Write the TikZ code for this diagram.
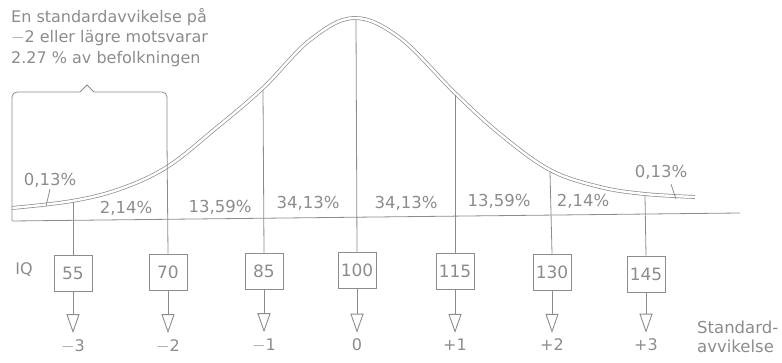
\documentclass[tikz,border=0pt]{standalone}
\usepackage{fontspec}
\setmainfont{DejaVu Sans}
\usetikzlibrary{arrows.meta}
\definecolor{ink}{HTML}{8C8C8C}
\tikzset{
  thin line/.style={draw=ink, line width=0.8pt},
  curveline/.style={draw=ink, line width=0.7pt, double=white, double distance=2.4pt},
  iqbox/.style={draw=ink, line width=0.9pt, minimum width=38pt, minimum height=36pt, inner sep=0pt, text=ink, font=\fontsize{17}{17}\selectfont},
  pct/.style={text=ink, font=\fontsize{16.5}{16.5}\selectfont, inner sep=0pt},
  sdlab/.style={text=ink, font=\fontsize{16}{16}\selectfont, inner sep=0pt},
  downarrow/.style={draw=ink, line width=0.9pt, -{Triangle[open, length=19pt, width=13pt, line width=0.9pt]}},
}
\begin{document}
\begin{tikzpicture}[x=1pt, y=-1pt]
\useasboundingbox (0,0) rectangle (782,363);

% top text
\node[text=ink, anchor=north west, align=left, inner sep=0pt,
      font=\fontsize{16}{20.5}\selectfont] (note) at (11,8)
  {En standardavvikelse på\\ $-$2 eller lägre motsvarar\\ 2.27 \% av befolkningen};

% baseline
\coordinate (bl) at (12,221);
\coordinate (br) at (740,213);
\draw[thin line] (bl) -- (br);

% bell curve (double line)
\draw[curveline] plot[smooth, tension=0.6] coordinates {
 (12,208) (72,201) (120,189) (167,167) (215,129) (263,88) (310,40) (354,18)
 (400,38) (455,93) (500,134) (550,170) (600,187) (645,194) (695,197)};

% bracket
\coordinate (brL) at (12,221);
\coordinate (brpk) at (87,85);
\draw[thin line, rounded corners=5pt] (brL) -- (12,92) -- (80,92);
\draw[thin line] (80,92) -- (brpk) -- (94,92);
\draw[thin line, rounded corners=5pt] (94,92) -- (167,92) -- (167,140);

% boxes
\node[iqbox] (b1) at (73,273) {55};
\node[iqbox] (b2) at (168,272) {70};
\node[iqbox] (b3) at (264,271) {85};
\node[iqbox] (b4) at (357,270) {100};
\node[iqbox] (b5) at (455,271) {115};
\node[iqbox] (b6) at (552,272) {130};
\node[iqbox] (b7) at (646,274) {145};

% tops of verticals
\coordinate (t1) at (73,202);
\coordinate (t2) at (167,140);
\coordinate (t3) at (263,90);
\coordinate (t4) at (356,20);
\coordinate (t5) at (455,95);
\coordinate (t6) at (550,172);
\coordinate (t7) at (645,196);
\foreach \i in {1,...,7} \draw[thin line] (t\i) -- (b\i.north);

% sd labels
\node[sdlab] (s1) at (73,346) {$-$3};
\node[sdlab] (s2) at (168,346) {$-$2};
\node[sdlab] (s3) at (264,345) {$-$1};
\node[sdlab] (s4) at (357,345) {0};
\node[sdlab] (s5) at (455,345) {+1};
\node[sdlab] (s6) at (552,345) {+2};
\node[sdlab] (s7) at (646,345) {+3};
\foreach \i in {1,...,7} \draw[downarrow, shorten >=6pt] (b\i.south) -- (s\i.north);

% IQ and axis label
\node[sdlab] (iq) at (24,270) {IQ};
\node[text=ink, anchor=north west, align=left, inner sep=0pt,
      font=\fontsize{16.5}{19}\selectfont] (sdname) at (697,321) {Standard-\\avvikelse};

% percentages
\node[pct] (p0l) at (50,180) {0,13\%};
\node[pct] (p1) at (126,208) {2,14\%};
\node[pct] (p2) at (220,207) {13,59\%};
\node[pct] (p3) at (308,203) {34,13\%};
\node[pct] (p4) at (406,203) {34,13\%};
\node[pct] (p5) at (499,201) {13,59\%};
\node[pct] (p6) at (583,201) {2,14\%};
\node[pct] (p0r) at (661,172) {0,13\%};

% leaders
\coordinate (ll) at (46,206);
\draw[thin line] (p0l.south) ++(0,2) -- (ll);
\coordinate (lr) at (676,199);
\draw[thin line] (p0r.south) ++(10,5) -- (lr);
\end{tikzpicture}
\end{document}
